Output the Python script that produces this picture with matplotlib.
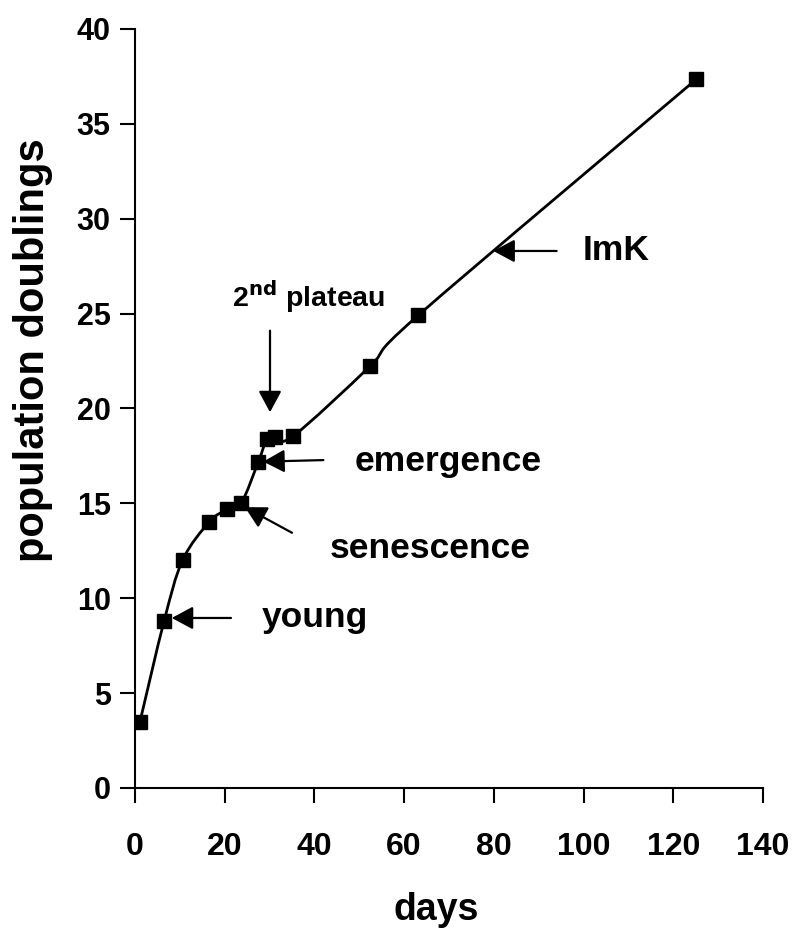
import matplotlib
matplotlib.use("Agg")
import matplotlib.pyplot as plt
from matplotlib.path import Path
from matplotlib.patches import PathPatch

plt.rcParams['font.family'] = ['Liberation Sans', 'DejaVu Sans']
plt.rcParams['font.weight'] = 'bold'

days = [1.1, 6.5, 10.6, 16.6, 20.6, 23.7, 27.5, 29.4, 31.2, 35.3, 52.4, 63.2, 125.1]
doublings = [3.48, 8.81, 12.0, 14.03, 14.69, 15.02, 17.19, 18.37, 18.48, 18.55, 22.23, 24.92, 37.34]

# annotations: label, text position, arrow tail, arrow tip
labels = ["young", "senescence", "emergence", "ImK"]
label_xy = [(28.3, 9.0), (43.5, 12.6), (49.0, 17.2), (99.9, 28.3)]
tails = [(21.4, 8.96), (35.0, 13.45), (42.0, 17.28), (94.0, 28.3)]
tips = [(8.2, 8.96), (24.5, 14.8), (28.6, 17.2), (79.9, 28.3)]

fig = plt.figure(figsize=(7.95, 9.31), dpi=100)
ax = fig.add_axes([0.1698, 0.1536, 0.7899, 0.8153])

# smooth line (catmull-rom segments drawn as cubic beziers)
verts = [(days[0], doublings[0])]
codes = [Path.MOVETO]
n = len(days)
for i in range(n - 1):
    p0 = (days[max(i - 1, 0)], doublings[max(i - 1, 0)])
    p1 = (days[i], doublings[i])
    p2 = (days[i + 1], doublings[i + 1])
    p3 = (days[min(i + 2, n - 1)], doublings[min(i + 2, n - 1)])
    c1 = (p1[0] + (p2[0] - p0[0]) / 6, p1[1] + (p2[1] - p0[1]) / 6)
    c2 = (p2[0] - (p3[0] - p1[0]) / 6, p2[1] - (p3[1] - p1[1]) / 6)
    verts += [c1, c2, p2]
    codes += [Path.CURVE4] * 3
ax.add_patch(PathPatch(Path(verts, codes), fill=False, lw=2.0, color='black', zorder=2))
ax.plot(days, doublings, ls='none', marker='s', ms=10.5, color='black', zorder=3)

arrow = dict(arrowstyle='-|>,head_length=1.3,head_width=0.7',
             color='black', lw=1.6, shrinkA=0, shrinkB=0)
for lab, txy, tl, tp in zip(labels, label_xy, tails, tips):
    ax.annotate('', xy=tp, xytext=tl, arrowprops=arrow)
    ax.text(txy[0], txy[1], lab, fontsize=25.5, fontweight='bold', va='center', ha='left')

ax.annotate('', xy=(30.1, 19.8), xytext=(30.1, 24.1), arrowprops=arrow)
ax.text(21.6, 25.9, r'2$^{\mathbf{nd}}$ plateau', fontsize=20.5, fontweight='bold',
        va='center', ha='left')

ax.set_xlim(0, 140)
ax.set_ylim(0, 40)
ax.set_xticks(range(0, 141, 20))
ax.set_yticks(range(0, 41, 5))
for s in ['top', 'right']:
    ax.spines[s].set_visible(False)
for s in ['left', 'bottom']:
    ax.spines[s].set_linewidth(1.5)
ax.tick_params(direction='out', length=10.5, width=1.5)
ax.tick_params(axis='y', labelsize=22, pad=7)
ax.tick_params(axis='x', labelsize=23, pad=21)

ax.set_xlabel('days', fontsize=27, fontweight='bold')
ax.xaxis.set_label_coords(0.479, -0.137)
ax.set_ylabel('population doublings', fontsize=30, fontweight='bold')
ax.yaxis.set_label_coords(-0.1306, 0.577)

fig.savefig('out.png', dpi=100)
